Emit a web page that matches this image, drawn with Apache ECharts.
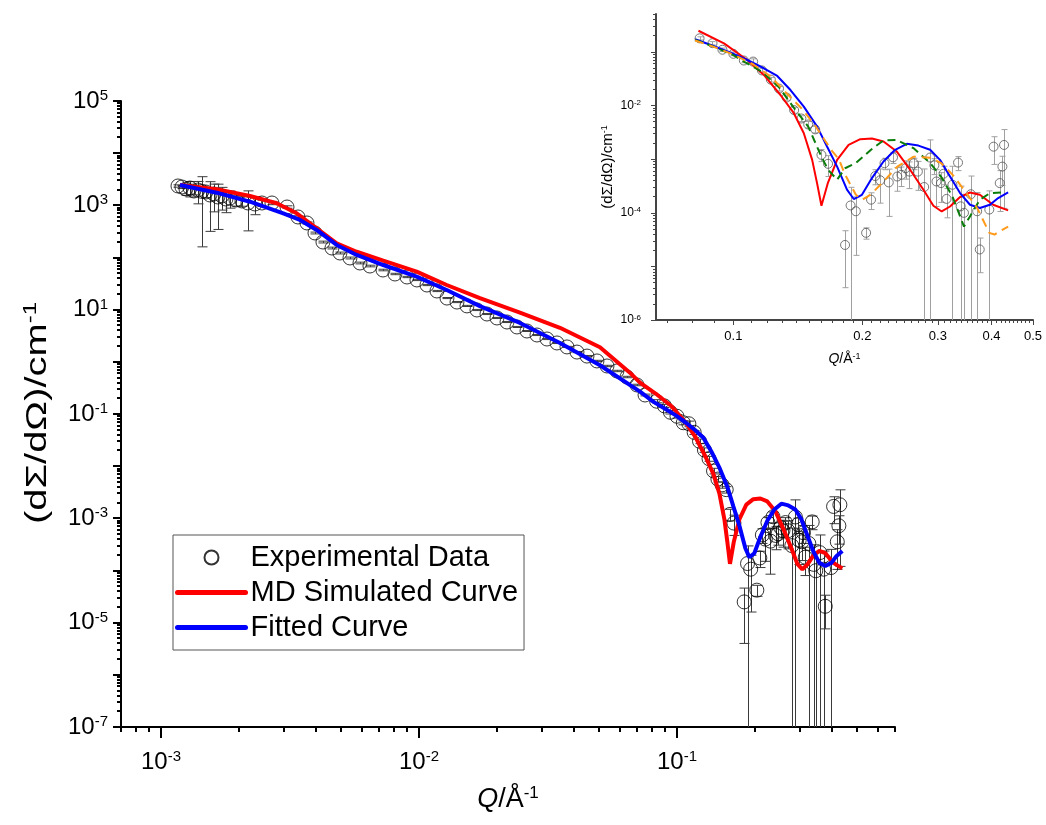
<!DOCTYPE html>
<html><head><meta charset="utf-8">
<script src="https://cdn.jsdelivr.net/npm/echarts@6/dist/echarts.min.js"></script>
<style>html,body{margin:0;padding:0;background:#fff}#c{width:1046px;height:825px}</style>
</head><body><div id="c"></div>
<script>
// ---------------- DATA ----------------
const expQ = [
 0.001164,0.001206,0.001250,0.001296,0.001342,0.001391,0.001442,0.001494,0.001549,0.001605,
 0.001663,0.001723,0.001786,0.001851,0.001953,0.002061,0.002174,0.002313,0.002463,0.002693,
 0.003080,0.003396,0.003680,0.003953,0.004245,0.004600,0.004940,0.005402,0.005906,0.006457,
 0.007253,0.008072,0.008985,0.009822,0.01074,0.01174,0.01284,0.01404,0.01535,0.01678,
 0.01835,0.02006,0.02194,0.02398,0.02622,0.02867,0.03134,0.03427,0.03747,0.04097,
 0.04479,0.04897,0.05355,0.05854,0.06401,0.06998,0.0752,
 0.0834,0.0894,0.0943,0.100,0.1058,0.1112,0.1166,0.1223,0.1278,0.1331,
 0.1386,0.1441,0.1495,0.1552,0.1605,0.1663,0.1822,0.1877,0.1931,0.2040,
 0.2095,0.2143,0.2200,0.2252,0.2304,0.2357,0.2412,0.2467,0.2521,0.2575,
 0.2634,0.2694,0.2787,0.2877,0.2944,0.2977,0.3050,0.3093,0.3143,0.3244,
 0.3343,0.3390,0.3451,0.3580,0.3704,0.3756,0.3954,0.4046,0.4182,0.4242,0.4280
];
const expI = [
 2349,2246,2057,2149,1883,1968,1850,1802,1579,1650,
 1445,1510,1323,1383,1266,1211,1109,1061,1109,1109,
 929,598,459,295,198,152,122,97.9,78.5,68.7,
 57.6,48.3,42.3,37.1,29.7,22.8,16.7,14.0,11.8,9.86,
 8.26,6.93,5.80,4.66,3.90,3.27,2.74,2.30,1.93,1.54,
 1.29,1.04,0.833,0.668,0.512,0.360,0.2315,
 0.176,0.143,0.108,0.0906,0.068,0.065,0.0445,0.030,0.0204,0.0139,
 0.0081,0.00566,0.00438,0.00355,0.00119,0.00081,0.000025,0.000136,0.000106,0.000042,
 0.000174,0.00048,0.00040,0.00083,0.000365,0.00107,0.00047,0.000506,0.00067,0.00058,
 0.00083,0.00058,0.00030,0.00106,0.00076,0.00038,0.000355,0.00053,0.00018,0.00033,
 0.000855,0.000131,0.000099,0.00022,0.000106,0.0000206,0.000114,0.00169,0.000355,0.00072,0.00182
];
const expErr = [
 120,150,500,700,300,900,1690,400,1262,900,
 1100,700,600,500,300,250,785,400,150,80,
 50,30,20,12,8,6,5,4,3,2.5,
 2,1.5,1.2,1.0,0.8,0.6,0.4,0.35,0.3,0.25,
 0.2,0.17,0.14,0.11,0.09,0.08,0.07,0.06,0.05,0.04,
 0.035,0.03,0.025,0.02,0.016,0.012,0.009,
 0.012,0.010,0.008,0.007,0.006,0.008,0.004,0.003,0.002,0.0015,
 0.001,0.0007,0.0006,0.0005,0.0003,0.00034,0.000021,0.00016,0.00009,0.00001,
 0.00006,0.00015,0.00025,0.0002,0.00028,0.00025,0.00022,0.0002,0.00025,0.0003,
 0.0002,0.00032,0.00035,0.0012,0.00025,0.00025,0.0002,0.0002,0.0001,0.0004,
 0.00025,0.00018,0.00012,0.00026,0.00013,0.000013,0.00014,0.0009,0.00025,0.0004,0.0017
];
// MD simulated curve (red)
const mdQ = [0.001185,0.001644,0.002213,0.002808,0.003357,0.004013,0.004797,0.005735,0.007271,0.009797,
 0.01281,0.01723,0.02463,0.0352,0.0503,0.0657,0.0719,0.0829,0.0951,0.1078,0.1178,0.1288,0.1384,0.146,
 0.1527,0.1568,0.1605,0.166,0.1746,0.1857,0.1977,0.2105,0.224,0.2406,0.2584,0.2776,0.2928,0.3062,
 0.3202,0.3379,0.3564,0.3759,0.4037,0.4375];
const mdI = [2455,2030,1510,1094,704,363,187,129,86.9,53.5,
 29.7,16.7,8.8,4.5,1.9,0.62,0.40,0.244,0.142,0.0695,0.0366,0.0155,0.0071,0.0030,
 0.00096,0.00035,0.000134,0.00035,0.00096,0.00183,0.00233,0.0024,0.00211,0.00137,0.00063,0.000267,0.000134,0.000105,
 0.00013,0.000195,0.000237,0.000215,0.00014,0.00011];
// Fitted curve (blue)
const fitQ = [0.001185,0.001644,0.002213,0.002979,0.003457,0.004013,0.004797,0.005735,0.007271,0.009797,
 0.01281,0.01723,0.02463,0.0352,0.0503,0.0719,0.0814,0.0886,0.0986,0.1078,0.1178,0.1266,0.1359,0.146,
 0.1568,0.1654,0.1746,0.1841,0.1909,0.1995,0.2105,0.224,0.2384,0.2539,0.2702,0.2877,0.3034,0.3202,
 0.3379,0.3564,0.3759,0.3967,0.4147,0.4375];
const fitI = [2455,1747,1174,704,524,337,174,112,71.8,42.9,
 23.8,11.7,5.56,2.30,0.86,0.268,0.169,0.132,0.095,0.0695,0.0488,0.0351,0.0192,0.0094,
 0.0040,0.0017,0.00072,0.000267,0.000179,0.000215,0.00044,0.000896,0.00148,0.00191,0.00177,0.00148,0.00096,0.00047,
 0.000231,0.00014,0.000122,0.00014,0.000187,0.000237];
// inset-only dashed curves
const greenQ = [0.0814,0.0894,0.100,0.1058,0.1166,0.1278,0.1386,0.1495,0.1605,0.1663,0.1746,0.1822,0.1931,
 0.2095,0.224,0.240,0.2634,0.2877,0.3050,0.3244,0.3451,0.3564,0.3759,0.3967,0.428];
const greenI = [0.164,0.126,0.086,0.065,0.042,0.0216,0.0088,0.0040,0.0011,0.00063,0.00041,0.00067,0.00084,
 0.00148,0.00222,0.00226,0.00158,0.00084,0.00047,0.00020,0.000055,0.000085,0.000174,0.00023,0.00024];
const orangeQ = [0.0814,0.0894,0.100,0.1112,0.1223,0.1331,0.1441,0.1552,0.1624,0.1700,0.1761,0.1822,0.1931,
 0.2000,0.2095,0.224,0.2412,0.2634,0.2877,0.3050,0.3244,0.3451,0.3704,0.3954,0.4066,0.4180,0.4375];
const orangeI = [0.16,0.125,0.088,0.058,0.034,0.0167,0.0088,0.0042,0.0024,0.0014,0.0010,0.00051,0.000215,
 0.000174,0.00022,0.00038,0.00072,0.0011,0.00105,0.00084,0.00051,0.000267,0.000122,0.000042,0.000039,0.000045,0.000055];

// axis tick values
const mainXMajor = [0.001, 0.01, 0.1];
const mainXDecades = [-4, -3, -2, -1];
const mainYDecades = [-7,-6,-5,-4,-3,-2,-1,0,1,2,3,4,5];
const mainYLabelExp = [5, 3, 1, -1, -3, -5, -7];
const insetXLabels = [0.1, 0.2, 0.3, 0.4, 0.5];
const insetXMinor = [0.07,0.08,0.09,0.11,0.12,0.13,0.14,0.15,0.16,0.17,0.18,0.19,0.21,0.22,0.23,0.24,0.25,0.26,0.27,0.28,0.29,
 0.31,0.32,0.33,0.34,0.35,0.36,0.37,0.38,0.39,0.41,0.42,0.43,0.44,0.45,0.46,0.47,0.48,0.49];
const insetYDecades = [-6,-5,-4,-3,-2,-1];
const insetYLabelExp = [-2, -4, -6];
const mantissas = [2,3,4,5,6,7,8,9];

// ---------------- BUILD ----------------
const FONT = "'Liberation Sans', Arial, sans-serif";
const MX = [7e-4, 0.7], MY = [1e-7, 1e5];
const IX = [0.066, 0.5], IY = [1e-6, 0.5];
const p10 = e => parseFloat(Math.pow(10, e).toPrecision(6));
function minorOf(decades, lo, hi) {
  const out = [];
  decades.forEach(e => mantissas.forEach(m => { const v = parseFloat((m * Math.pow(10, e)).toPrecision(6)); if (v >= lo * 0.999 && v <= hi * 1.001) out.push(v); }));
  return out;
}
const pairs = (qs, is, minQ) => qs.map((q, i) => [q, is[i]]).filter(d => d[0] >= (minQ || 0));

function tickSeries(xi, yi, data, dir, color, lw) {
  return {
    type: 'custom', xAxisIndex: xi, yAxisIndex: yi, silent: true, z: 20, clip: false, animation: false,
    encode: { x: 0, y: 1 }, data,
    renderItem: (params, api) => {
      const p = api.coord([api.value(0), api.value(1)]);
      const len = api.value(2);
      const off = lw % 2 ? 0.5 : 0;
      let shape;
      if (dir === 'x') { const x = Math.round(p[0]) + off; shape = { x1: x, y1: p[1], x2: x, y2: p[1] + len }; }
      else { const y = Math.round(p[1]) + off; shape = { x1: p[0] - len, y1: y, x2: p[0], y2: y }; }
      return { type: 'line', shape, style: { stroke: color, lineWidth: lw } };
    }
  };
}
function labelSeries(xi, yi, data, dir, offset, fmt, fs, sfs, supRaise) {
  return {
    type: 'custom', xAxisIndex: xi, yAxisIndex: yi, silent: true, z: 20, clip: false, animation: false,
    encode: { x: 0, y: 1 }, data,
    renderItem: (params, api) => {
      const v = dir === 'x' ? api.value(0) : api.value(1);
      const p = api.coord([api.value(0), api.value(1)]);
      return {
        type: 'text',
        x: dir === 'x' ? p[0] : p[0] - offset,
        y: dir === 'x' ? p[1] + offset : p[1],
        style: {
          text: fmt(v), align: dir === 'x' ? 'center' : 'right', verticalAlign: 'middle',
          fill: '#000', fontSize: fs, fontFamily: FONT,
          rich: {
            b: { fontSize: fs, fontFamily: FONT, fill: '#000' },
            s: { fontSize: sfs, fontFamily: FONT, fill: '#000', verticalAlign: 'bottom', padding: [0, 0, supRaise, 0] }
          }
        }
      };
    }
  };
}
function errSeries(xi, yi, data, color, cap) {
  return {
    type: 'custom', xAxisIndex: xi, yAxisIndex: yi, silent: true, z: 1, clip: true, animation: false,
    encode: { x: 0, y: 1 }, data,
    renderItem: (params, api) => {
      const q = api.value(0), v = api.value(1), e = api.value(2);
      const cs = params.coordSys;
      const hi = api.coord([q, v + e]);
      const x = Math.round(hi[0]) + 0.5;
      const kids = [];
      let loY, loCap = true;
      if (v - e > 0) loY = api.coord([q, v - e])[1]; else { loY = cs.y + cs.height; loCap = false; }
      kids.push({ type: 'line', shape: { x1: x, y1: hi[1], x2: x, y2: loY }, style: { stroke: color, lineWidth: 1 } });
      kids.push({ type: 'line', shape: { x1: x - cap, y1: hi[1], x2: x + cap, y2: hi[1] }, style: { stroke: color, lineWidth: 1 } });
      if (loCap) kids.push({ type: 'line', shape: { x1: x - cap, y1: loY, x2: x + cap, y2: loY }, style: { stroke: color, lineWidth: 1 } });
      return { type: 'group', children: kids };
    }
  };
}

const supFmt = v => { const e = Math.round(Math.log10(v)); return '{b|10}{s|' + e + '}'; };

const mainXTicks = mainXMajor.map(v => [v, MY[0], 11]).concat(minorOf(mainXDecades, MX[0], MX[1]).map(v => [v, MY[0], 5]));
const mainYTicks = mainYDecades.map(e => [MX[0], p10(e), 8]).concat(minorOf(mainYDecades.slice(0, -1), MY[0], MY[1]).map(v => [MX[0], v, 4]));
const insetXTicks = insetXLabels.map(v => [v, IY[0], 5]).concat(insetXMinor.map(v => [v, IY[0], 3]));
const insetYTicks = insetYDecades.map(e => [IX[0], p10(e), 5]).concat(minorOf(insetYDecades, IY[0], IY[1]).map(v => [IX[0], v, 3]));

const expAll = expQ.map((q, i) => [q, expI[i], expErr[i]]);
const expInset = expAll.filter(d => d[0] >= 0.08);

const option = {
  animation: false,
  backgroundColor: '#fff',
  textStyle: { fontFamily: FONT },
  grid: [
    { left: 121, top: 101, width: 774, height: 626 },
    { left: 656, top: 14, width: 377, height: 306 }
  ],
  graphic: [{
    type: 'text', x: 38, y: 413, rotation: Math.PI / 2, scaleX: 1.33, silent: true,
    style: { text: '(dΣ/dΩ)/cm{s|-1}', align: 'center', verticalAlign: 'middle', fill: '#000', fontSize: 30, fontFamily: FONT,
      rich: { s: { fontSize: 18, fontFamily: FONT, fill: '#000', verticalAlign: 'bottom', padding: [0, 0, 14, 0] } } }
  }],
  xAxis: [
    { type: 'log', gridIndex: 0, min: MX[0], max: MX[1],
      axisLine: { lineStyle: { color: '#000', width: 2 } }, axisTick: { show: false }, axisLabel: { show: false }, splitLine: { show: false },
      name: '{i|Q}/Å{s|-1}', nameLocation: 'middle', nameGap: 58,
      nameTextStyle: { fontSize: 27, fontFamily: FONT, color: '#000',
        rich: { i: { fontSize: 27, fontStyle: 'italic', fontFamily: FONT, color: '#000' }, s: { fontSize: 17, fontFamily: FONT, color: '#000', verticalAlign: 'bottom', padding: [0, 0, 12, 0] } } } },
    { type: 'log', gridIndex: 1, min: IX[0], max: IX[1],
      axisLine: { lineStyle: { color: '#444', width: 2 } }, axisTick: { show: false }, axisLabel: { show: false }, splitLine: { show: false },
      name: '{i|Q}/Å{s|-1}', nameLocation: 'middle', nameGap: 32,
      nameTextStyle: { fontSize: 14, fontFamily: FONT, color: '#000',
        rich: { i: { fontSize: 14, fontStyle: 'italic', fontFamily: FONT, color: '#000' }, s: { fontSize: 9, fontFamily: FONT, color: '#000', verticalAlign: 'bottom', padding: [0, 0, 6, 0] } } } }
  ],
  yAxis: [
    { type: 'log', gridIndex: 0, min: MY[0], max: MY[1],
      axisLine: { lineStyle: { color: '#000', width: 2 } }, axisTick: { show: false }, axisLabel: { show: false }, splitLine: { show: false } },
    { type: 'log', gridIndex: 1, min: IY[0], max: IY[1],
      axisLine: { lineStyle: { color: '#444', width: 2 } }, axisTick: { show: false }, axisLabel: { show: false }, splitLine: { show: false },
      name: '(dΣ/dΩ)/cm{s|-1}', nameLocation: 'middle', nameGap: 40,
      nameTextStyle: { fontSize: 15, fontFamily: FONT, color: '#000',
        rich: { s: { fontSize: 9, fontFamily: FONT, color: '#000', verticalAlign: 'bottom', padding: [0, 0, 7, 0] } } } }
  ],
  legend: {
    orient: 'vertical', left: 173, top: 535, itemWidth: 68, itemHeight: 14, itemGap: 6,
    padding: [8, 6, 8, 2], borderColor: '#555', borderWidth: 1, backgroundColor: '#fff',
    textStyle: { fontSize: 29, fontFamily: FONT, color: '#000' },
    data: [
      { name: 'Experimental Data' },
      { name: 'MD Simulated Curve', itemStyle: { opacity: 0 }, lineStyle: { width: 5, cap: 'round' } },
      { name: 'Fitted Curve', itemStyle: { opacity: 0 }, lineStyle: { width: 5, cap: 'round' } }
    ]
  },
  series: [
    errSeries(0, 0, expAll, '#3a3a3a', 5),
    { name: 'Experimental Data', type: 'scatter', xAxisIndex: 0, yAxisIndex: 0, symbol: 'circle', symbolSize: 14, z: 2, clip: true,
      itemStyle: { color: 'rgba(255,255,255,0)', borderColor: '#000', borderWidth: 1 },
      data: expAll.map(d => [d[0], d[1]]) },
    { name: 'MD Simulated Curve', type: 'line', xAxisIndex: 0, yAxisIndex: 0, symbol: 'none', z: 4, clip: true,
      lineStyle: { color: '#ff0000', width: 4 }, itemStyle: { color: '#ff0000' }, data: pairs(mdQ, mdI) },
    { name: 'Fitted Curve', type: 'line', xAxisIndex: 0, yAxisIndex: 0, symbol: 'none', z: 5, clip: true,
      lineStyle: { color: '#0000ff', width: 4 }, itemStyle: { color: '#0000ff' }, data: pairs(fitQ, fitI) },
    // inset
    errSeries(1, 1, expInset, '#a0a0a0', 3),
    { name: 'inset data', type: 'scatter', xAxisIndex: 1, yAxisIndex: 1, symbol: 'circle', symbolSize: 9, z: 2, clip: true,
      itemStyle: { color: 'rgba(255,255,255,0)', borderColor: '#555', borderWidth: 1 },
      data: expInset.map(d => [d[0], d[1]]) },
    { name: 'inset MD', type: 'line', xAxisIndex: 1, yAxisIndex: 1, symbol: 'none', z: 4, clip: true,
      lineStyle: { color: '#ff0000', width: 2 }, data: pairs(mdQ, mdI, 0.08) },
    { name: 'inset fit', type: 'line', xAxisIndex: 1, yAxisIndex: 1, symbol: 'none', z: 5, clip: true,
      lineStyle: { color: '#0000ff', width: 2 }, data: pairs(fitQ, fitI, 0.08) },
    { name: 'inset green', type: 'line', xAxisIndex: 1, yAxisIndex: 1, symbol: 'none', z: 6, clip: true,
      lineStyle: { color: '#0a7d0a', width: 2, type: [8, 5] }, data: pairs(greenQ, greenI) },
    { name: 'inset orange', type: 'line', xAxisIndex: 1, yAxisIndex: 1, symbol: 'none', z: 6, clip: true,
      lineStyle: { color: '#ff9a1a', width: 2, type: [9, 6] }, data: pairs(orangeQ, orangeI) },
    // ticks & labels
    tickSeries(0, 0, mainXTicks, 'x', '#000', 2),
    tickSeries(0, 0, mainYTicks, 'y', '#000', 2),
    tickSeries(1, 1, insetXTicks, 'x', '#444', 1),
    tickSeries(1, 1, insetYTicks, 'y', '#444', 1),
    labelSeries(0, 0, mainXMajor.map(v => [v, MY[0]]), 'x', 35, supFmt, 24, 15, 10),
    labelSeries(0, 0, mainYLabelExp.map(e => [MX[0], p10(e)]), 'y', 13, supFmt, 24, 15, 10),
    labelSeries(1, 1, insetXLabels.map(v => [v, IY[0]]), 'x', 16, v => String(v), 13, 8, 5),
    labelSeries(1, 1, insetYLabelExp.map(e => [IX[0], p10(e)]), 'y', 15, supFmt, 12, 8, 5)
  ]
};
const chart = echarts.init(document.getElementById('c'), null, { renderer: 'canvas' });
chart.setOption(option);
</script>
</body></html>
